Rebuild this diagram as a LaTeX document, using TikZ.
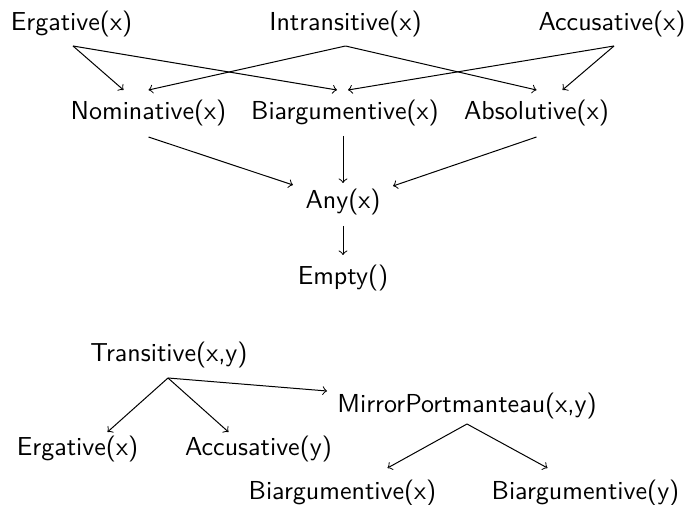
\documentclass[tikz,border=0pt]{standalone}
\usetikzlibrary{calc}
\begin{document}
\begin{tikzpicture}[x=0.4pt,y=-0.4pt,
  lbl/.style={anchor=base, inner sep=0pt, font=\sffamily\fontsize{10.4}{12.5}\selectfont},
  arr/.style={->, line width=0.4pt}]
\useasboundingbox (0,0) rectangle (687,505);
% top lattice
\node[lbl] (erg)  at (71.5,31)  {Ergative(x)};
\node[lbl] (intr) at (345.5,31) {Intransitive(x)};
\node[lbl] (acc)  at (612,31)   {Accusative(x)};
\node[lbl] (nom)  at (148.5,120) {Nominative(x)};
\node[lbl] (biar) at (345,120)  {Biargumentive(x)};
\node[lbl] (abso) at (536.5,120) {Absolutive(x)};
\node[lbl] (any)  at (343,209)  {Any(x)};
\node[lbl] (emp)  at (343,285)  {Empty()};
% bottom trees
\node[lbl] (tra)  at (169,362)  {Transitive(x,y)};
\node[lbl] (erg2) at (77.5,456) {Ergative(x)};
\node[lbl] (acc2) at (258.5,456) {Accusative(y)};
\node[lbl] (mir)  at (467,413)  {MirrorPortmanteau(x,y)};
\node[lbl] (bx)   at (342.5,500) {Biargumentive(x)};
\node[lbl] (by)   at (585.5,500) {Biargumentive(y)};
% edges top
\draw[arr] ($(erg.base)+(1.5,15)$) -- ($(nom.base)+(-25,-30)$);
\draw[arr] ($(erg.base)+(1.5,15)$) -- ($(biar.base)+(-8,-30)$);
\draw[arr] ($(intr.base)+(0,15)$) -- ($(nom.base)+(0,-30)$);
\draw[arr] ($(intr.base)+(0,15)$) -- ($(abso.base)+(0,-30)$);
\draw[arr] ($(acc.base)+(2,15)$) -- ($(biar.base)+(3,-30)$);
\draw[arr] ($(acc.base)+(2,15)$) -- ($(abso.base)+(26,-30)$);
\draw[arr] ($(nom.base)+(0,17)$) -- ($(any.base)+(-50,-24)$);
\draw[arr] ($(biar.base)+(-2,16)$) -- ($(any.base)+(0,-26)$);
\draw[arr] ($(abso.base)+(0,17)$) -- ($(any.base)+(50,-23)$);
\draw[arr] ($(any.base)+(0,17)$) -- ($(emp.base)+(0,-30)$);
% edges bottom
\draw[arr] ($(tra.base)+(-1,16)$) -- ($(erg2.base)+(30,-24)$);
\draw[arr] ($(tra.base)+(-1,16)$) -- ($(acc2.base)+(-30,-24)$);
\draw[arr] ($(tra.base)+(-1,16)$) -- ($(mir.base)+(-140,-22)$);
\draw[arr] ($(mir.base)+(0,11)$) -- ($(bx.base)+(45,-32)$);
\draw[arr] ($(mir.base)+(0,11)$) -- ($(by.base)+(-38,-32)$);
\end{tikzpicture}
\end{document}
